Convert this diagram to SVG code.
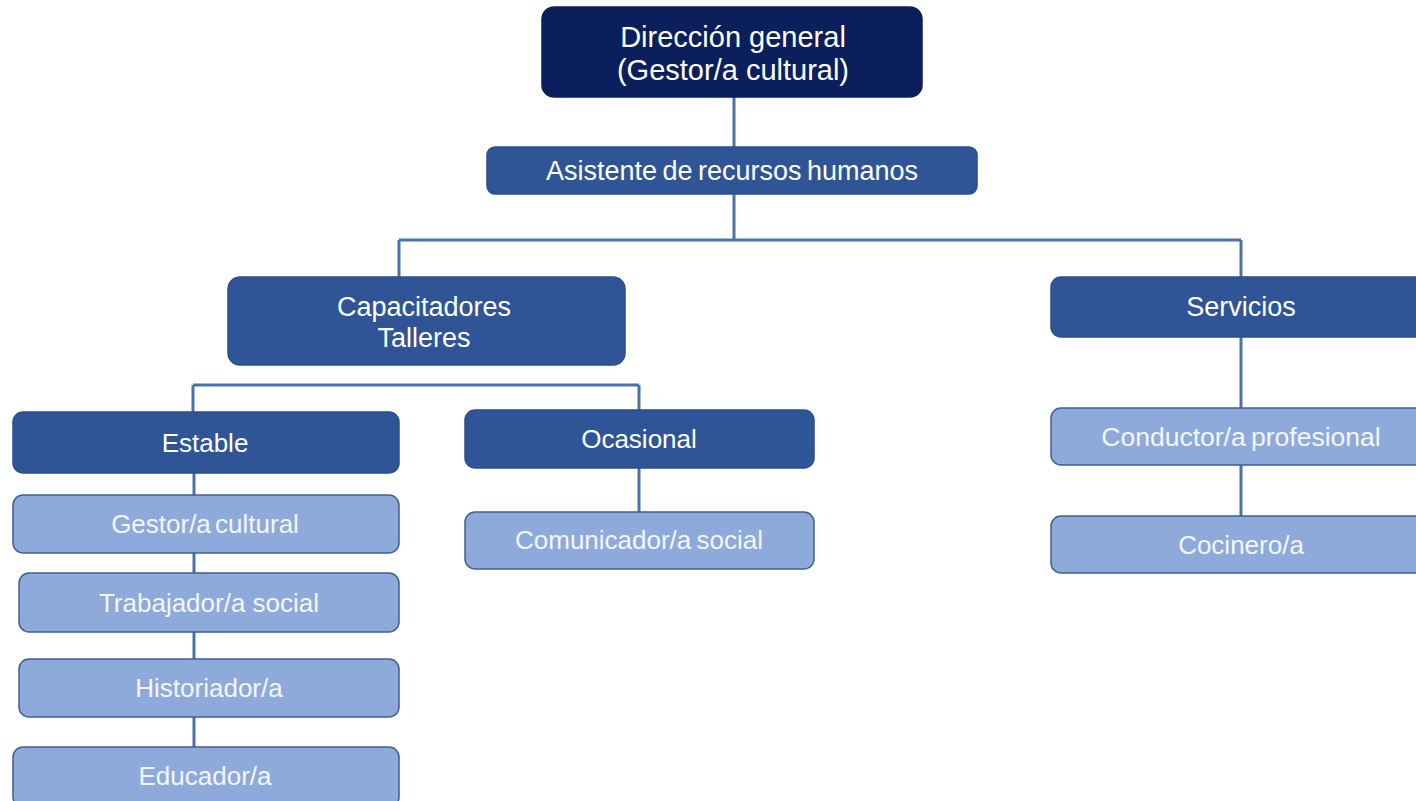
<svg xmlns="http://www.w3.org/2000/svg" width="1416" height="801" viewBox="0 0 1416 801">
<style>
.bg{fill:#ffffff}
.top{fill:#0b1f5c;stroke:#0b1f5c;stroke-width:1.5}
.mid{fill:#2f5597;stroke:#2a4f8c;stroke-width:1.5}
.light{fill:#8eaadb;stroke:#3f5f90;stroke-width:1.5}
.t{font-family:"Liberation Sans",Arial,sans-serif;fill:#ffffff;text-anchor:middle}
.tl{font-family:"Liberation Sans",Arial,sans-serif;fill:#f4f6fb;text-anchor:middle}
.conn{stroke:#4a72a8;stroke-width:3;fill:none}
</style>
<rect class="bg" x="0" y="0" width="1416" height="801"/>
<g id="connectors">
<path class="conn" d="M734 97V147"/>
<path class="conn" d="M734 194V240"/>
<path class="conn" d="M399 240H1241"/>
<path class="conn" d="M399 240V277"/>
<path class="conn" d="M1241 240V277"/>
<path class="conn" d="M193 385H639"/>
<path class="conn" d="M193 385V412"/>
<path class="conn" d="M639 385V410"/>
<path class="conn" d="M639 468V512"/>
<path class="conn" d="M194 473V495"/>
<path class="conn" d="M194 553V573"/>
<path class="conn" d="M194 632V659"/>
<path class="conn" d="M194 717V747"/>
<path class="conn" d="M1241 337V408"/>
<path class="conn" d="M1241 465V516"/>
</g>
<g id="direccion">
<rect class="top" x="542" y="7" width="380" height="90" rx="12"/>
<text class="t" x="733" y="47" font-size="29">Dirección general</text>
<text class="t" x="733" y="80" font-size="29">(Gestor/a cultural)</text>
</g>
<g id="asistente">
<rect class="mid" x="487" y="147" width="490" height="47" rx="8"/>
<text class="t" x="732" y="180" font-size="27" word-spacing="-2">Asistente de recursos humanos</text>
</g>
<g id="capacitadores">
<rect class="mid" x="228" y="277" width="397" height="88" rx="12"/>
<text class="t" x="424" y="316" font-size="27">Capacitadores</text>
<text class="t" x="424" y="347" font-size="27">Talleres</text>
</g>
<g id="servicios">
<rect class="mid" x="1051" y="277" width="380" height="60" rx="10"/>
<text class="t" x="1241" y="316" font-size="27">Servicios</text>
</g>
<g id="estable">
<rect class="mid" x="13" y="412" width="386" height="61" rx="10"/>
<text class="t" x="205" y="452" font-size="26">Estable</text>
</g>
<g id="ocasional">
<rect class="mid" x="465" y="410" width="349" height="58" rx="10"/>
<text class="t" x="639" y="448" font-size="26">Ocasional</text>
</g>
<g id="gestor">
<rect class="light" x="13" y="495" width="386" height="58" rx="10"/>
<text class="tl" x="205" y="533" font-size="26" word-spacing="-3">Gestor/a cultural</text>
</g>
<g id="trabajador">
<rect class="light" x="19" y="573" width="380" height="59" rx="10"/>
<text class="tl" x="209" y="612" font-size="26">Trabajador/a social</text>
</g>
<g id="historiador">
<rect class="light" x="19" y="659" width="380" height="58" rx="10"/>
<text class="tl" x="209" y="697" font-size="26">Historiador/a</text>
</g>
<g id="educador">
<rect class="light" x="13" y="747" width="386" height="60" rx="10"/>
<text class="tl" x="205" y="785" font-size="26">Educador/a</text>
</g>
<g id="comunicador">
<rect class="light" x="465" y="512" width="349" height="57" rx="10"/>
<text class="tl" x="639" y="549" font-size="26" word-spacing="-2">Comunicador/a social</text>
</g>
<g id="conductor">
<rect class="light" x="1051" y="408" width="380" height="57" rx="10"/>
<text class="tl" x="1241" y="446" font-size="26.5" word-spacing="-2">Conductor/a profesional</text>
</g>
<g id="cocinero">
<rect class="light" x="1051" y="516" width="380" height="57" rx="10"/>
<text class="tl" x="1241" y="554" font-size="26">Cocinero/a</text>
</g>
</svg>
